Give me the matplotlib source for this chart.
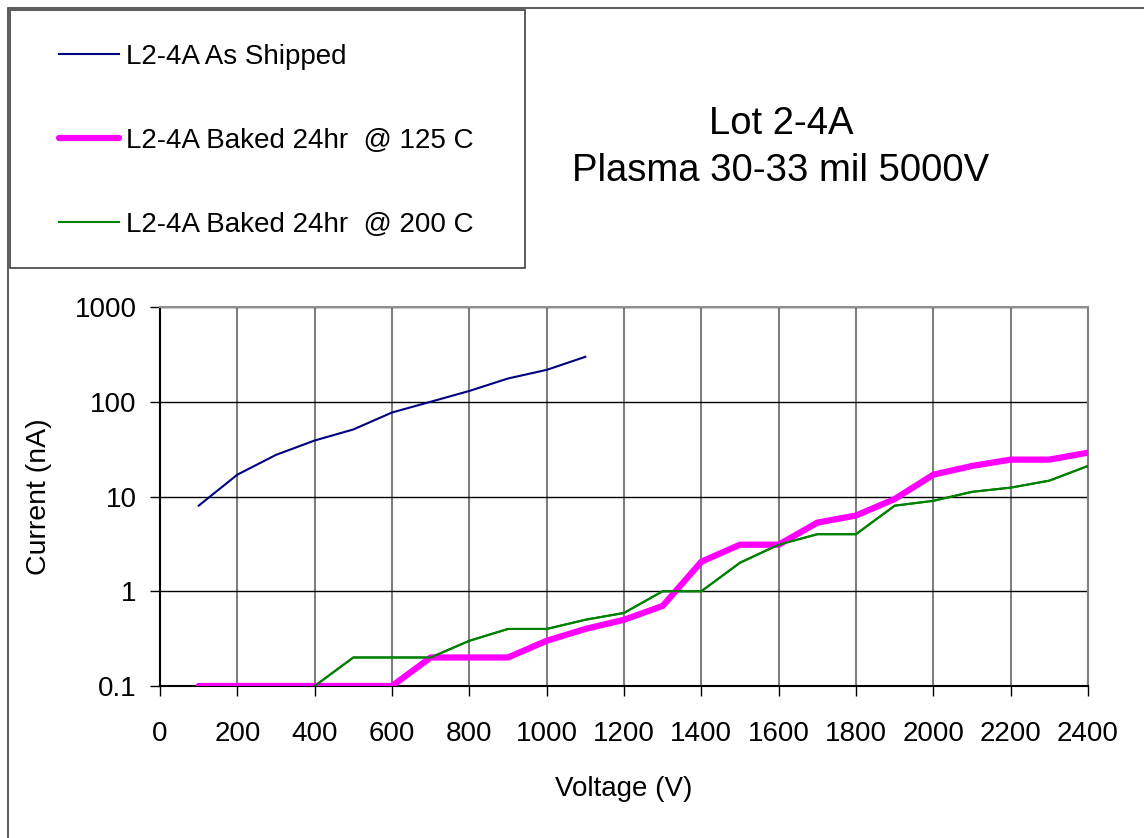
import matplotlib
matplotlib.use("Agg")
import matplotlib.pyplot as plt
from matplotlib.patches import Rectangle

plt.rcParams['font.family'] = ['Liberation Sans', 'DejaVu Sans']

v_shipped = [100, 200, 300, 400, 500, 600, 700, 800, 900, 1000, 1100]
i_shipped = [8, 17, 27.5, 39, 51, 77, 100, 130, 176, 217, 298]

v_baked = [100, 200, 300, 400, 500, 600, 700, 800, 900, 1000, 1100, 1200,
           1300, 1400, 1500, 1600, 1700, 1800, 1900, 2000, 2100, 2200, 2300, 2400]
i_125 = [0.1, 0.1, 0.1, 0.1, 0.1, 0.1, 0.2, 0.2, 0.2, 0.3, 0.4, 0.5,
         0.7, 2.05, 3.1, 3.1, 5.3, 6.3, 9.4, 17, 21, 24.5, 24.5, 29]
i_200 = [0.1, 0.1, 0.1, 0.1, 0.2, 0.2, 0.2, 0.3, 0.4, 0.4, 0.5, 0.59,
         1.0, 1.0, 2.0, 3.1, 4.0, 4.0, 8.0, 9.0, 11.2, 12.4, 14.7, 21]

labels = ['L2-4A As Shipped', 'L2-4A Baked 24hr  @ 125 C', 'L2-4A Baked 24hr  @ 200 C']
xticks = list(range(0, 2401, 200))
yticks = [0.1, 1, 10, 100, 1000]
ytick_labels = ['0.1', '1', '10', '100', '1000']

fig = plt.figure(figsize=(11.44, 8.38), dpi=100)
W, H = 1144, 838

# outer chart frame
fig.add_artist(Rectangle((8 / W, -0.01), 1.1, 1 - 8 / H + 0.01, transform=fig.transFigure,
                         fill=False, edgecolor='#404040', linewidth=1.2))

ax = fig.add_axes([160 / W, 1 - 686 / H, (1088 - 160) / W, (686 - 307) / H])
ax.set_yscale('log')
ax.set_xlim(0, 2400)
ax.set_ylim(0.1, 1000)

for x in xticks[1:]:
    ax.axvline(x, color='#7f7f7f', linewidth=1.5, zorder=1)
for y in yticks[1:]:
    ax.axhline(y, color='#000000', linewidth=1.0, zorder=1)

l1, = ax.plot(v_shipped, i_shipped, color='#000080', linewidth=1.5, zorder=3)
l3, = ax.plot(v_baked, i_200, color='#008000', linewidth=1.5, zorder=3)
l2, = ax.plot(v_baked, i_125, color='#ff00ff', linewidth=4.5, zorder=4,
              solid_capstyle='round')
# green drawn on top where it leaves the flat part
ax.plot(v_baked[3:], i_200[3:], color='#008000', linewidth=1.5, zorder=5)

ax.set_xticks(xticks)
ax.set_xticklabels([str(x) for x in xticks], fontsize=20)
ax.set_yticks(yticks)
ax.set_yticklabels(ytick_labels, fontsize=20)
ax.minorticks_off()
ax.tick_params(axis='both', direction='out', length=7, width=1, color='black')
ax.tick_params(axis='x', pad=18)
ax.tick_params(axis='y', pad=10)
ax.spines['left'].set_color('black')
ax.spines['bottom'].set_color('black')
ax.spines['top'].set_color('#909090')
ax.spines['right'].set_color('#7f7f7f')
for s in ax.spines.values():
    s.set_linewidth(1.5)

ax.set_xlabel('Voltage (V)', fontsize=20, labelpad=21)
ax.set_ylabel('Current (nA)', fontsize=20.5, labelpad=16)

# legend box
fig.add_artist(Rectangle((10 / W, 1 - 268 / H), (525 - 10) / W, (268 - 10) / H,
                         transform=fig.transFigure, fill=False, edgecolor='#404040',
                         linewidth=1.2))
leg = fig.legend([l1, l2, l3], labels, loc='upper left',
                 bbox_to_anchor=(48 / W, 1 - 33 / H), frameon=False,
                 fontsize=20, handlelength=2.16, handletextpad=0.25,
                 labelspacing=2.08, borderaxespad=0)

fig.text(781 / W, 1 - 124 / H, 'Lot 2-4A', ha='center', va='center', fontsize=27.5)
fig.text(781 / W, 1 - 171 / H, 'Plasma 30-33 mil 5000V', ha='center', va='center', fontsize=27.5)

fig.savefig('out.png', dpi=100)
